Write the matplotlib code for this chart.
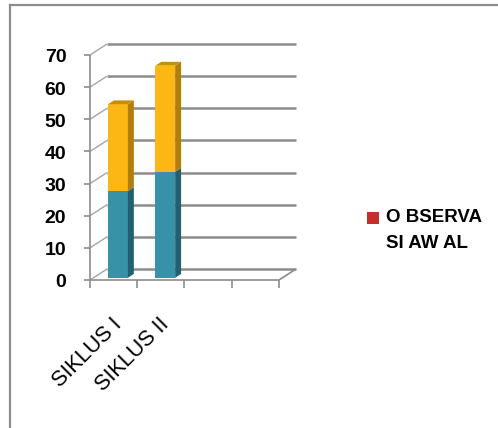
import matplotlib
matplotlib.use("Agg")
import matplotlib.pyplot as plt
from matplotlib.patches import Polygon, Rectangle
from matplotlib.lines import Line2D

# ---- data ----
categories = ["SIKLUS I", "SIKLUS II"]
series_lower = [27, 33]          # blue segment
series_upper = [27, 33]          # gold segment
legend_label = "O BSERVA\nSI AW AL"
y_ticks = [0, 10, 20, 30, 40, 50, 60, 70]
n_slots = 4                      # category slots on the floor

# ---- style ----
GRID = "#8c8c8c"
BLUE_FRONT, BLUE_SIDE = "#3792a8", "#23606f"
GOLD_FRONT, GOLD_SIDE, GOLD_TOP = "#fdb714", "#b27d08", "#c78e0a"
RED = "#c62d2d"
FONT = "Liberation Sans"
W, H = 498, 428

DX, DY = 0.36, 3.42              # depth offset of the back wall (data units)
BAR_W = 0.42
F0, F1 = 0.2, 0.55               # bar front/back depth fractions

fig = plt.figure(figsize=(W / 100, H / 100), dpi=100)
ax = fig.add_axes([0.1807, 0.3458, 0.4175, 0.5557])
ax.set_xlim(0, n_slots + 0.4)
ax.set_ylim(0, 74)
ax.axis("off")

def line(xs, ys, **kw):
    ax.add_line(Line2D(xs, ys, clip_on=False, solid_capstyle="butt", **kw))

# back-wall gridlines and side-wall diagonals
for v in y_ticks:
    line([DX, n_slots + DX], [v + DY, v + DY], color=GRID, lw=1.8, zorder=1)
    line([0, DX], [v, v + DY], color="#a6a6a6", lw=1.0, zorder=1)
    line([-0.12, 0], [v, v], color=GRID, lw=1.2, zorder=1)
    ax.text(-0.5, v - 0.9, str(v), ha="right", va="center",
            fontsize=14, fontweight="bold", family=FONT, color="black")

# front value axis
line([0, 0], [0, y_ticks[-1]], color=GRID, lw=1.2, zorder=1)
# floor edges
line([0, n_slots], [0, 0], color=GRID, lw=1.2, zorder=1)
line([n_slots, n_slots + DX], [0, DY], color=GRID, lw=1.2, zorder=1)
for k in range(n_slots + 1):
    line([k, k], [0, -2.6], color=GRID, lw=1.2, zorder=1)

# 3-D stacked bars
def bar3d(cx, bottom, top, front, side, topc=None):
    x0, x1 = cx - BAR_W / 2, cx + BAR_W / 2
    ax.add_patch(Rectangle((x0 + F0 * DX, bottom + F0 * DY), BAR_W, top - bottom,
                           facecolor=front, edgecolor="none", zorder=3, clip_on=False))
    ax.add_patch(Polygon([(x1 + F0 * DX, bottom + F0 * DY), (x1 + F1 * DX, bottom + F1 * DY),
                          (x1 + F1 * DX, top + F1 * DY), (x1 + F0 * DX, top + F0 * DY)],
                         closed=True, facecolor=side, edgecolor="none", zorder=3, clip_on=False))
    if topc is not None:
        ax.add_patch(Polygon([(x0 + F0 * DX, top + F0 * DY), (x1 + F0 * DX, top + F0 * DY),
                              (x1 + F1 * DX, top + F1 * DY), (x0 + F1 * DX, top + F1 * DY)],
                             closed=True, facecolor=topc, edgecolor="none", zorder=3, clip_on=False))

for i, name in enumerate(categories):
    cx = i + 0.52
    lo, hi = series_lower[i], series_upper[i]
    bar3d(cx, 0, lo, BLUE_FRONT, BLUE_SIDE)
    bar3d(cx, lo, lo + hi, GOLD_FRONT, GOLD_SIDE, GOLD_TOP)
    ax.text(i + 0.46, -10.5, name, rotation=45, rotation_mode="anchor",
            ha="right", va="top", fontsize=15.5, family=FONT, color="black")

# legend: key square aligned with the first text line
fig.add_artist(Rectangle((367 / W, 1 - 224 / H), 12 / W, 12 / H,
                         transform=fig.transFigure, facecolor=RED, edgecolor="none"))
fig.text(386 / W, 1 - 209.5 / H, legend_label, ha="left", va="top",
         family=FONT, fontweight="bold", fontsize=13.5, linespacing=1.68)

# chart-area frame (top and left edges)
fig.add_artist(Line2D([10 / W, 1.0], [1 - 5 / H, 1 - 5 / H],
                      transform=fig.transFigure, color=GRID, lw=1.6))
fig.add_artist(Line2D([10 / W, 10 / W], [0.0, 1 - 5 / H],
                      transform=fig.transFigure, color=GRID, lw=1.6))

fig.savefig("out.png", dpi=100)
